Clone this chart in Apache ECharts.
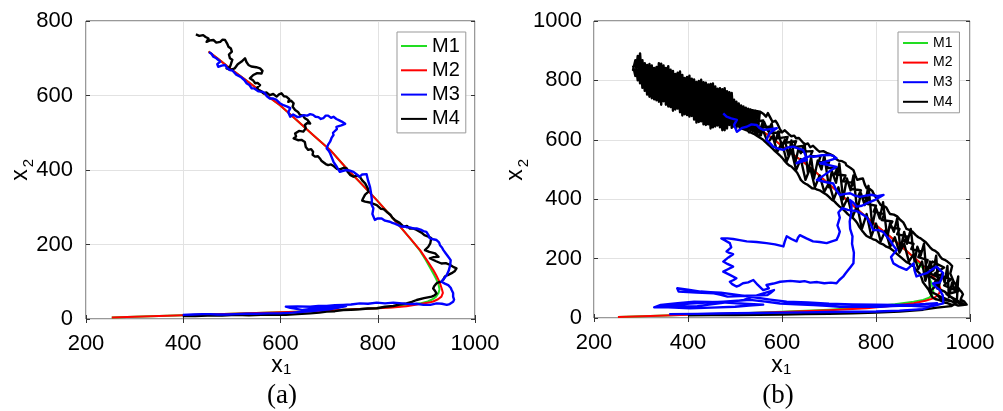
<!DOCTYPE html>
<html>
<head>
<meta charset="utf-8">
<title>trajectories</title>
<script src="https://cdn.jsdelivr.net/npm/echarts@6.0.0/dist/echarts.min.js"></script>
<style>
html, body { margin: 0; padding: 0; background: #fff; }
#chart { width: 1003px; height: 411px; }
</style>
</head>
<body>
<div id="chart"></div>
<script>
// axis ticks
var x1Ticks = [200, 400, 600, 800, 1000];
var x2TicksA = [0, 200, 400, 600, 800];
var x2TicksB = [0, 200, 400, 600, 800, 1000];
var seriesNames = ["M1", "M2", "M3", "M4"];
var seriesColors = ["#22dd22", "#ff0000", "#0000ff", "#000000"];

// panel (a) - [x1, x2] pairs
var aM2 = [[253,4],[300,6],[350,8],[400,10],[450,12],[500,14],[550,16],[600,18],[650,20],[700,23],[750,26],[800,29],[830,31],[859,34],[887,40],[905,44],[914,47],[924,53],[931,60],[934,70],[932,80],[929,92],[925,105],[920,118],[914,132],[901,158],[887,185],[867,216],[846,248],[822,284],[798,319],[767,362],[736,404],[702,454],[667,494],[633,534],[599,574],[565,606],[530,640],[496,673],[475,695],[452,718]];
var aM1 = [[253,4],[300,6],[350,8],[400,10],[450,12],[500,14],[550,16],[600,18],[650,20],[700,23],[750,26],[800,29],[830,32],[859,36],[887,42],[903,47],[913,53],[920,60],[925,70],[927,80],[925,92],[921,105],[916,118],[910,132],[899,158],[886,185],[867,216],[846,248],[822,284],[798,319],[767,362],[736,404],[702,454],[667,494],[633,534],[599,574],[565,606],[530,640],[496,673],[475,695],[452,718]];
var aM3 = [[453,716],[458,712],[462,704],[468,700],[476,691],[470,684],[472,677],[479,680],[486,682],[490,674],[496,668],[501,667],[505,662],[509,656],[513,655],[518,650],[520,646],[526,641],[530,633],[536,628],[541,619],[546,619],[550,615],[555,611],[558,610],[563,610],[568,606],[572,598],[578,592],[585,592],[592,588],[598,580],[606,574],[610,574],[614,570],[618,569],[620,566],[616,555],[620,543],[626,549],[630,548],[635,542],[640,543],[648,547],[655,546],[661,550],[667,548],[672,543],[678,542],[683,537],[688,539],[693,546],[698,546],[704,540],[709,543],[715,537],[720,534],[726,530],[729,525],[733,524],[736,521],[725,520],[715,516],[716,510],[712,505],[708,500],[709,494],[705,486],[702,476],[698,468],[695,458],[699,452],[702,445],[706,432],[709,422],[712,418],[716,408],[722,395],[729,398],[736,400],[743,398],[750,395],[757,388],[763,382],[768,388],[772,386],[777,389],[781,387],[780,372],[784,355],[786,340],[788,319],[787,308],[791,297],[789,282],[794,266],[800,270],[808,270],[815,264],[825,261],[830,258],[835,256],[842,252],[849,248],[855,249],[860,246],[866,246],[873,243],[880,243],[888,240],[894,236],[900,234],[904,226],[907,217],[914,214],[921,212],[926,206],[928,198],[932,192],[935,185],[940,176],[945,167],[950,158],[949,145],[946,130],[942,118],[936,108],[931,100],[938,95],[945,91],[950,84],[952,78],[955,70],[955,60],[957,52],[955,46],[948,40],[942,38],[932,41],[921,42],[908,38],[894,38],[880,41],[866,40],[850,42],[832,44],[815,42],[798,44],[780,41],[763,42],[745,39],[729,38],[712,37],[695,35],[678,35],[661,33],[635,34],[611,33],[620,30],[630,28],[638,26],[646,24],[662,27],[680,29],[695,30],[710,32],[722,33],[735,35],[718,30],[700,26],[676,23],[652,20],[625,17],[598,15],[575,15],[550,14],[530,14],[508,13],[490,12],[470,12],[455,13],[440,13],[420,12],[399,11]];
var aM4 = [[426,764],[433,760],[441,762],[446,757],[452,753],[448,744],[455,748],[462,749],[468,742],[476,744],[481,750],[486,749],[490,740],[493,731],[498,726],[500,718],[494,710],[496,700],[501,696],[503,691],[498,684],[496,677],[489,673],[497,669],[506,673],[512,684],[520,691],[527,700],[530,690],[534,682],[540,678],[544,673],[550,676],[558,673],[563,666],[561,659],[552,660],[544,655],[541,650],[537,646],[544,640],[548,633],[553,634],[558,628],[552,621],[554,615],[560,612],[565,606],[571,608],[578,601],[585,604],[592,597],[597,603],[602,606],[607,598],[612,597],[618,590],[616,583],[622,586],[627,579],[625,570],[630,561],[636,556],[640,548],[646,546],[650,539],[656,534],[661,525],[655,526],[650,521],[652,512],[647,503],[638,505],[630,498],[632,490],[627,485],[636,480],[643,481],[650,475],[654,472],[652,462],[657,454],[663,456],[667,449],[666,441],[671,436],[677,437],[681,431],[684,425],[688,422],[693,416],[698,413],[704,415],[710,410],[716,403],[722,402],[730,406],[736,404],[738,395],[743,387],[747,383],[750,382],[757,385],[763,382],[768,372],[774,364],[779,352],[781,342],[774,334],[770,324],[768,318],[774,315],[786,312],[798,306],[806,296],[812,295],[818,288],[826,280],[830,272],[835,266],[845,258],[853,248],[860,250],[866,243],[873,243],[880,239],[890,232],[896,225],[904,221],[910,217],[914,212],[908,203],[904,194],[897,185],[906,180],[918,176],[925,167],[915,166],[907,163],[920,155],[931,149],[940,150],[949,145],[955,140],[962,136],[958,128],[952,123],[944,118],[938,114],[935,106],[931,100],[926,99],[921,96],[916,88],[914,82],[918,75],[921,69],[916,63],[911,60],[895,56],[880,51],[870,46],[859,42],[845,39],[832,35],[815,33],[798,29],[780,28],[763,26],[745,25],[729,24],[712,21],[695,20],[680,17],[661,15],[635,13],[611,11],[585,12],[560,11],[535,10],[508,11],[480,9],[450,9],[425,8],[399,8]];

// panel (b)
var bM2 = [[251,3],[320,7],[400,11],[500,15],[600,20],[700,26],[780,33],[840,42],[880,50],[905,58],[922,66],[930,75],[935,85],[937,100],[933,115],[926,130],[915,150],[908,162],[895,185],[879,206],[855,240],[830,274],[808,302],[787,330],[762,364],[738,397],[715,430],[690,465],[667,498],[640,532],[610,566],[580,605],[550,638],[520,662],[490,688],[460,712],[431,734]];
var bM1 = [[251,3],[320,7],[400,11],[500,15],[600,21],[700,28],[780,36],[840,46],[880,55],[900,61],[913,68],[920,78],[922,90],[920,105],[917,122],[911,140],[904,158],[894,180],[879,206],[855,240],[830,274],[808,302],[787,330],[762,364],[738,397],[715,430],[690,465],[667,498],[640,532],[610,566],[580,605],[550,638],[520,662],[490,688],[460,712],[431,734]];
var bM3 = [[475,689],[482,678],[492,672],[504,667],[498,650],[504,627],[515,640],[525,644],[535,652],[546,650],[552,640],[560,633],[575,636],[589,639],[580,630],[574,622],[570,610],[567,599],[575,588],[581,577],[592,570],[603,566],[612,574],[624,577],[635,570],[645,566],[650,548],[653,532],[640,526],[631,521],[642,533],[650,540],[660,545],[667,543],[685,548],[702,549],[710,545],[716,538],[700,530],[681,521],[700,515],[716,509],[705,498],[695,487],[685,476],[674,465],[692,458],[709,453],[715,432],[723,414],[735,418],[745,420],[755,412],[766,408],[778,412],[790,415],[803,410],[816,414],[798,398],[780,386],[770,378],[759,375],[752,388],[745,397],[748,375],[747,350],[744,325],[745,300],[750,275],[749,250],[753,220],[752,184],[746,172],[740,160],[735,150],[730,139],[722,128],[716,117],[704,119],[690,117],[675,121],[660,119],[648,124],[638,122],[618,125],[596,122],[582,116],[567,111],[572,100],[560,94],[548,112],[539,128],[528,120],[517,117],[510,110],[503,106],[494,114],[489,122],[497,128],[503,134],[488,146],[475,156],[486,165],[496,173],[484,182],[475,190],[486,204],[496,215],[488,219],[482,224],[492,238],[489,252],[478,262],[471,268],[484,268],[496,266],[510,262],[525,258],[546,256],[567,252],[585,248],[603,241],[606,258],[610,275],[620,266],[631,258],[634,270],[638,279],[652,268],[666,258],[680,256],[695,252],[706,258],[716,263],[720,276],[723,291],[718,312],[723,338],[720,355],[728,370],[740,364],[759,360],[768,352],[780,340],[788,318],[794,296],[805,296],[815,290],[822,276],[830,262],[836,246],[844,229],[832,205],[837,184],[850,172],[865,162],[872,172],[880,184],[882,160],[886,140],[897,146],[908,151],[918,162],[929,173],[936,162],[943,151],[940,135],[936,120],[928,118],[921,116],[928,104],[936,94],[942,76],[943,60],[943,49],[925,42],[908,38],[885,40],[865,42],[835,40],[808,38],[765,38],[723,38],[695,41],[667,44],[630,46],[596,49],[565,55],[532,61],[505,58],[475,55],[440,52],[404,49],[370,44],[333,38],[370,35],[404,33],[450,35],[500,38],[530,42],[560,45],[520,48],[480,52],[445,54],[413,55],[378,50],[342,44],[328,36],[370,38],[420,40],[470,50],[519,61],[550,78],[583,94],[576,85],[569,77],[525,75],[484,72],[470,78],[455,83],[418,86],[380,89],[377,100],[400,95],[427,89],[448,87],[470,85],[505,78],[540,70],[575,62],[610,55],[655,52],[700,48],[750,46],[800,45],[840,44],[880,45],[905,47],[930,50],[915,38],[900,30],[850,25],[800,22],[750,21],[700,20],[650,19],[600,18],[550,17],[500,16],[460,15],[420,14],[360,13]];
var bM4 = [
  // dense cloud at the start, scribbled back and forth
  [283,850],[288,815],[293,882],[298,790],[303,868],[308,765],[313,852],[318,745],[323,850],[328,736],[333,845],[338,728],[343,856],[348,730],[353,842],[358,712],[363,836],[368,698],[373,822],[378,705],[383,830],[388,682],[393,808],[398,683],[403,816],[408,680],[413,803],[418,658],[423,798],[428,662],[433,794],[438,650],[443,786],[448,638],[453,790],[458,645],[463,772],[468,642],[473,770],[478,632],[483,764],[488,650],[493,758],[498,644],[503,728],[508,645],[513,716],[518,645],[523,708],[528,636],[533,702],[538,628],[543,698],[548,620],[553,694],
  [548,696],[543,624],[538,700],[533,632],[528,705],[523,640],[518,712],[513,640],[508,722],[503,640],[498,735],[493,640],[488,760],[483,638],[478,774],[473,632],[468,774],[463,648],[458,780],[453,642],[448,788],[443,652],[438,792],[433,652],[428,802],[423,660],[418,795],[413,668],[408,806],[403,678],[398,812],[393,686],[388,818],[383,693],[378,826],[373,702],[368,832],[363,710],[358,848],[353,718],[348,850],[343,718],[338,858],[333,733],[328,842],[323,740],[318,855],[313,752],[308,858],[303,775],[298,891],[293,800],[288,868],[283,835],[400,740],[553,695],
  // band, several passes
  [560,688],[566,678],[570,690],[576,672],[580,660],[586,664],[590,655],[595,638],[600,625],[606,632],[610,630],[615,618],[620,612],[626,614],[630,605],[636,606],[640,600],[645,590],[650,585],[655,588],[660,575],[666,580],[670,578],[675,566],[680,560],[688,562],[695,556],[702,552],[710,545],[715,535],[720,530],[728,528],[735,522],[737,514],[740,510],[746,505],[752,498],[756,480],[760,465],[766,468],[772,470],[776,450],[780,437],[786,435],[792,428],[796,415],[800,405],[806,390],[810,380],[816,378],[822,372],[826,360],[830,350],[838,348],[845,342],[852,330],[858,322],[862,310],[865,300],[872,296],[878,290],[884,280],[890,272],[895,268],[900,262],[906,255],[910,250],[915,238],[920,230],[926,226],[932,218],[936,208],[940,200],[946,196],[952,190],[958,182],[962,175],[960,162],[958,150],[962,135],[966,120],[972,108],[978,95],[982,88],[985,80],[982,70],[980,62],[988,55],[993,45],
  [975,42],[968,46],[960,45],[952,50],[945,52],[940,57],[935,60],[926,64],[920,70],[916,82],[912,95],[906,108],[900,120],[897,135],[893,150],[886,160],[880,175],[875,178],[870,185],[865,188],[860,195],[852,206],[845,215],[838,225],[830,235],[822,240],[815,248],[808,252],[800,262],[794,265],[788,270],[780,276],[775,285],[773,290],[770,295],[764,308],[760,320],[756,328],[752,335],[746,342],[740,350],[734,360],[728,368],[722,376],[716,385],[712,392],[706,398],[700,408],[695,415],[688,422],[680,430],[675,432],[670,436],[664,437],[660,440],[655,448],[650,452],[645,457],[640,465],[636,478],[632,490],[626,500],[620,510],[615,514],[610,521],[605,530],[600,540],[595,548],[590,555],[585,562],[580,570],[575,578],[570,585],[565,592],[560,600],[554,606],[548,612],[544,617],[540,620],[532,626],[525,632],[518,636],[510,640],
  [515,700],[522,665],[530,690],[538,640],[545,672],[555,615],[562,660],[570,630],[578,655],[585,590],[592,628],[600,575],[606,600],[614,545],[620,598],[628,520],[635,570],[640,555],[648,585],[655,490],[662,540],[668,470],[676,530],[684,500],[690,548],[700,440],[706,495],[715,455],[722,520],[730,400],[738,470],[746,430],[752,480],[760,360],[768,420],[776,380],[784,445],[792,310],[800,370],[808,335],[815,390],[824,270],[830,320],[838,290],[845,335],[852,230],[860,290],[866,250],[874,300],[882,190],[888,240],[895,210],[902,250],[908,140],[915,190],[922,160],[928,210],[933,100],[940,150],[946,120],[952,175],[955,70],[962,120],[968,90],[975,140],[972,55],
  [960,70],[945,90],[930,100],[925,120],[935,135],[915,150],[922,165],[905,175],[910,195],[890,205],[895,225],[875,232],[880,250],[860,258],[866,275],[845,282],[850,300],[828,306],[835,325],[812,330],[818,350],[795,358],[800,378],[778,385],[785,405],[762,410],[768,430],[745,435],[752,455],[730,460],[735,480],[712,485],[718,505],[695,505],[700,525],[678,525],[682,545],[660,545],[665,562],[642,560],[648,580],[625,575],[630,595],[608,590],[612,610],[590,605],[595,625],[572,622],[575,645],[555,640],[560,665],[540,660],[545,680],[525,675],
  [520,645],[530,625],[540,648],[550,610],[560,630],[570,590],[580,612],[590,560],[600,590],[610,528],[620,565],[630,498],[640,535],[650,465],[660,505],[670,440],[680,480],[690,425],[700,455],[710,400],[720,440],[730,372],[740,405],[750,340],[760,378],[770,300],[780,350],[790,275],[800,318],[810,258],[820,295],[830,240],[840,272],[850,220],[860,250],[870,190],[880,215],[890,165],[898,190],[905,125],[912,160],[915,90],[928,80],[940,62],[965,55],[985,48],
  // knot near the turn
  [950,80],[975,90],[945,110],[960,130],[925,150],[945,170],[920,190],[905,150],[935,120],[915,90],[940,70],[970,50],
  // return along the bottom
  [960,40],[930,35],[900,28],[850,22],[800,18],[750,16],[700,14],[650,13],[600,12],[550,11],[500,10],[450,10],[400,9]];

var panelA = [aM1, aM2, aM3, aM4];
var panelB = [bM1, bM2, bM3, bM4];

var font = "Liberation Sans, Arial, sans-serif";

function mainAxis(grid, ticks, pos, margin) {
  return {
    type: "value", gridIndex: grid, position: pos,
    min: ticks[0], max: ticks[ticks.length - 1], interval: ticks[1] - ticks[0],
    axisLine: { show: false },
    axisTick: { show: true, inside: true, length: 4, lineStyle: { color: "#333" } },
    axisLabel: { show: true, margin: margin, color: "#000", fontSize: 22, fontFamily: font,
      formatter: function (v) { return String(v); } },
    splitLine: { show: true, lineStyle: { color: "#e2e2e2", width: 1 } }
  };
}
function mirrorAxis(grid, ticks, pos) {
  return {
    type: "value", gridIndex: grid, position: pos,
    min: ticks[0], max: ticks[ticks.length - 1], interval: ticks[1] - ticks[0],
    axisLine: { show: false },
    axisTick: { show: true, inside: true, length: 4, lineStyle: { color: "#333" } },
    axisLabel: { show: false },
    splitLine: { show: false }
  };
}

var widths = [2, 2, 2.4, 2.4];
var zs = [2, 3, 5, 4]; // blue sits over black, black over red
var series = [];
[panelA, panelB].forEach(function (panel, p) {
  panel.forEach(function (d, i) {
    series.push({
      name: seriesNames[i], type: "line", data: d,
      xAxisIndex: p * 2, yAxisIndex: p * 2,
      showSymbol: false, symbol: "none", clip: true,
      lineStyle: { color: seriesColors[i], width: widths[i], join: "round" },
      itemStyle: { color: seriesColors[i] },
      z: zs[i]
    });
  });
});

function txt(x, y, s, size, fam, align, rot) {
  return {
    type: "text", x: x, y: y, rotation: rot || 0, z: 100,
    style: { text: s, font: size + "px " + fam, fill: "#000",
      align: align, verticalAlign: "middle", textAlign: align, textVerticalAlign: "middle" }
  };
}

var chart = echarts.init(document.getElementById("chart"));
chart.setOption({
  animation: false,
  grid: [
    { left: 86, top: 21, width: 389, height: 298, show: true, borderColor: "#333", borderWidth: 1, backgroundColor: "#fff" },
    { left: 594, top: 21, width: 376, height: 297, show: true, borderColor: "#333", borderWidth: 1, backgroundColor: "#fff" }
  ],
  xAxis: [
    mainAxis(0, x1Ticks, "bottom", 14), mirrorAxis(0, x1Ticks, "top"),
    mainAxis(1, x1Ticks, "bottom", 14), mirrorAxis(1, x1Ticks, "top")
  ],
  yAxis: [
    mainAxis(0, x2TicksA, "left", 13), mirrorAxis(0, x2TicksA, "right"),
    mainAxis(1, x2TicksB, "left", 12), mirrorAxis(1, x2TicksB, "right")
  ],
  legend: [
    {
      data: seriesNames, orient: "vertical", left: 397, top: 32,
      icon: "rect", itemWidth: 26, itemHeight: 2, itemGap: 2.3,
      padding: [3, 6, 3, 4], backgroundColor: "#fff", borderColor: "#999", borderWidth: 1, borderRadius: 0,
      textStyle: { fontSize: 20, lineHeight: 22, color: "#000", fontFamily: font },
      selectedMode: false
    },
    {
      data: seriesNames, orient: "vertical", left: 898, top: 32,
      icon: "rect", itemWidth: 25, itemHeight: 2, itemGap: 3.6,
      padding: [3, 7, 3, 5], backgroundColor: "#fff", borderColor: "#999", borderWidth: 1, borderRadius: 0,
      textStyle: { fontSize: 14, lineHeight: 16, color: "#000", fontFamily: font },
      selectedMode: false
    }
  ],
  graphic: [
    txt(277, 366, "x", 23, font, "center"), txt(283, 370, "1", 15, font, "left"),
    txt(777, 366, "x", 23, font, "center"), txt(783, 370, "1", 15, font, "left"),
    txt(21, 175, "x", 23, font, "center", Math.PI / 2), txt(29, 163, "2", 15, font, "center", Math.PI / 2),
    txt(516, 175, "x", 23, font, "center", Math.PI / 2), txt(524, 163, "2", 15, font, "center", Math.PI / 2),
    txt(282, 396, "(a)", 27, "Liberation Serif, DejaVu Serif, serif", "center"),
    txt(778, 396, "(b)", 27, "Liberation Serif, DejaVu Serif, serif", "center")
  ],
  series: series
});
</script>
</body>
</html>
